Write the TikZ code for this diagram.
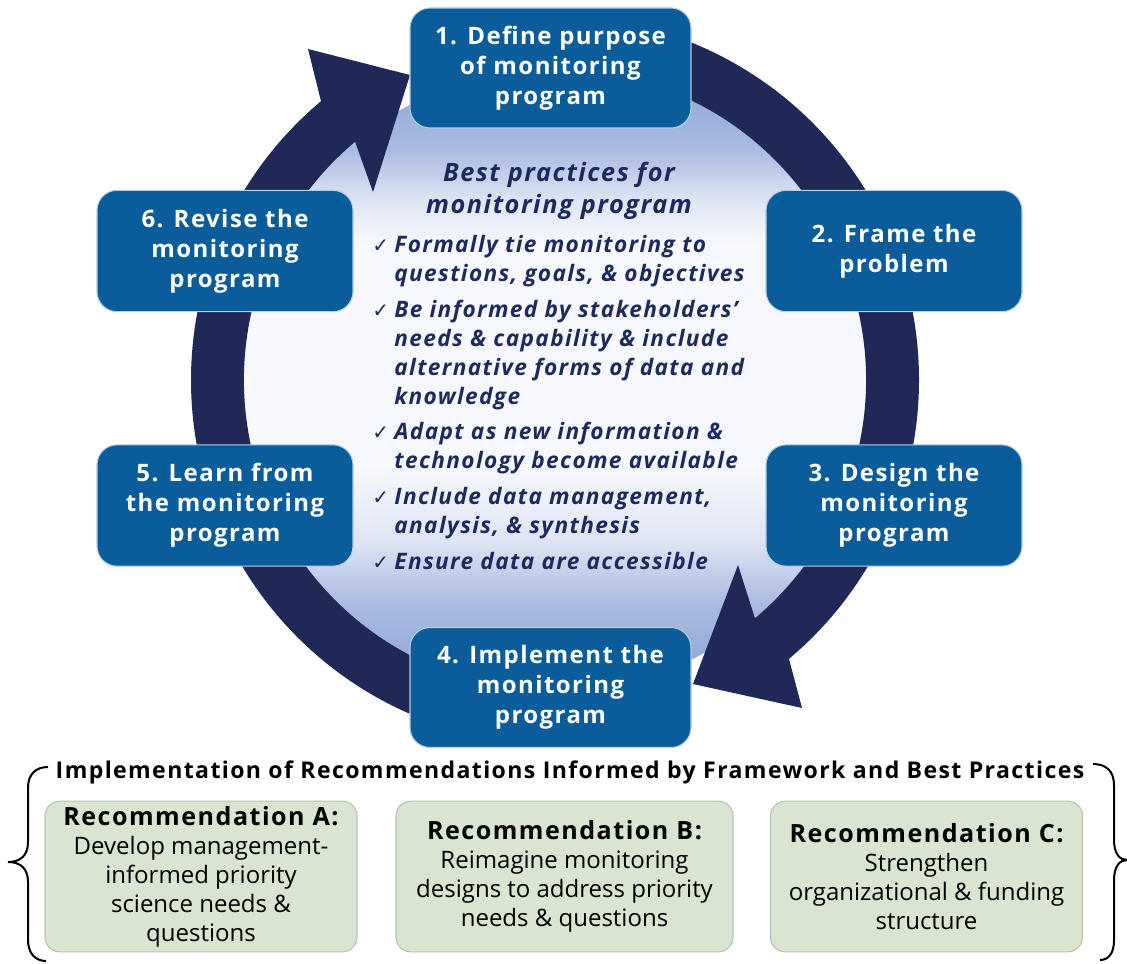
\documentclass[tikz,border=0pt]{standalone}
\usepackage{fontspec}
\setmainfont{Open Sans}
\newfontfamily\widefont[LetterSpace=6]{Open Sans}
\newfontfamily\symbolfont{DejaVu Sans}
\usetikzlibrary{positioning}

\definecolor{ringnavy}{HTML}{1F2857}
\definecolor{textnavy}{HTML}{1E2A5E}
\definecolor{stepblue}{HTML}{0A5C9A}
\definecolor{recgreen}{HTML}{D9E4D1}
\definecolor{recedge}{HTML}{B7C2AE}
\definecolor{discblue}{HTML}{8AA2D6}
\definecolor{disclight}{HTML}{A9BBE1}
\definecolor{discpale}{HTML}{DDE4F3}
\definecolor{discwhite}{HTML}{F7F8FD}
\pgfdeclareverticalshading{discshade}{100bp}{color(0bp)=(discblue); color(25bp)=(discblue); color(32bp)=(disclight); color(37bp)=(discpale); color(43bp)=(discwhite); color(61bp)=(discwhite); color(64.5bp)=(discpale); color(68.5bp)=(disclight); color(75bp)=(discblue); color(100bp)=(discblue)}

\newcommand{\chk}{{\symbolfont\upshape\mdseries\fontsize{15}{15}\selectfont ✓}}

\begin{document}
\begin{tikzpicture}[
    x=0.75pt, y=-0.75pt,
    stepbox/.style={rectangle, draw=white!70!stepblue, line width=0.8pt, fill=stepblue, rounded corners=15pt, text=white, align=center, inner sep=2pt, minimum width=192pt, minimum height=91pt, font=\widefont\fontsize{18}{22.5}\selectfont\bfseries},
    recbox/.style={rectangle, draw=recedge, line width=0.8pt, fill=recgreen, rounded corners=11pt, align=center, inner sep=2pt, minimum width=234pt, minimum height=113pt, font=\fontsize{18}{21.75}\selectfont},
    ringarrow/.style={fill=ringnavy, draw=none}
  ]
  \useasboundingbox (0,0) rectangle (1127,963);

  % disc and ring
  \coordinate (hub) at (555,380);
  \shade[shading=discshade] (hub) circle[radius=311];
  \begin{scope}[shift={(hub)}]
    \fill[ringarrow] (110:311) arc[start angle=110, end angle=230, radius=311] -- (-182,-188) -- (-145,-305) -- (-247,-331) -- (230:364) arc[start angle=230, end angle=110, radius=364] -- cycle;
    \fill[ringarrow] (-70:311) arc[start angle=-70, end angle=50, radius=311] -- (183,185) -- (138,304) -- (247,328) -- (50:364) arc[start angle=50, end angle=-70, radius=364] -- cycle;
  \end{scope}

  % best practices
  \node[text=textnavy, align=center, font=\widefont\fontsize{19}{24}\selectfont\bfseries\itshape] (bptitle) at (559,191) {Best practices for\\monitoring program};
  \node[anchor=north west, inner sep=0pt, text=textnavy, font=\widefont\fontsize{17}{21.75}\selectfont\bfseries\itshape] (bplist) at (372,232) {%
    \begin{tabular}{@{}l@{\hspace{4pt}}l@{}}
      \chk & Formally tie monitoring to\\
           & questions, goals, \& objectives\\[5pt]
      \chk & Be informed by stakeholders’\\
           & needs \& capability \& include\\
           & alternative forms of data and\\
           & knowledge\\[5pt]
      \chk & Adapt as new information \&\\
           & technology become available\\[5pt]
      \chk & Include data management,\\
           & analysis, \& synthesis\\[5pt]
      \chk & Ensure data are accessible
    \end{tabular}};

  % steps
  \node[stepbox, minimum width=210.75pt, minimum height=90pt] (define) at (550.5,68) {1. Define purpose\\of monitoring\\program};
  \node[stepbox] (frame) at (894,251) {2. Frame the\\problem};
  \node[stepbox] (design) at (894,505.5) {3. Design the\\monitoring\\program};
  \node[stepbox, minimum width=210.75pt, minimum height=90pt] (implement) at (550.5,687.5) {4. Implement the\\monitoring\\program};
  \node[stepbox] (learn) at (225,505.5) {5. Learn from\\the monitoring\\program};
  \node[stepbox] (revise) at (225,251) {6. Revise the\\monitoring\\program};

  % recommendations
  \node[font=\widefont\fontsize{17.3}{20}\selectfont\bfseries] (implhead) at (570,772) {Implementation of Recommendations Informed by Framework and Best Practices};
  \node[recbox] (recA) at (201,876.5) {{\widefont\fontsize{18.8}{22}\selectfont\bfseries Recommendation A:}\\Develop management-\\informed priority\\science needs \&\\questions};
  \node[recbox, minimum width=252.75pt] (recB) at (564.5,876.5) {{\widefont\fontsize{18.8}{22}\selectfont\bfseries Recommendation B:}\\Reimagine monitoring\\designs to address priority\\needs \& questions};
  \node[recbox] (recC) at (926.5,876.5) {{\widefont\fontsize{18.8}{22}\selectfont\bfseries Recommendation C:}\\Strengthen\\organizational \& funding\\structure};

  % braces
  \draw[line width=1.5pt] (48,767) .. controls (36,767) and (28,774) .. (28,788) -- (28,842) .. controls (28,856) and (20,862) .. (8,862) .. controls (20,862) and (28,868) .. (28,882) -- (28,940) .. controls (28,954) and (36,961) .. (46,961);
  \draw[line width=1.5pt] (1093,764) .. controls (1106,764) and (1114,771) .. (1114,785) -- (1114,840) .. controls (1114,854) and (1120,860) .. (1127,860) .. controls (1120,860) and (1114,866) .. (1114,880) -- (1114,940) .. controls (1114,954) and (1108,960) .. (1100,960);
\end{tikzpicture}
\end{document}
